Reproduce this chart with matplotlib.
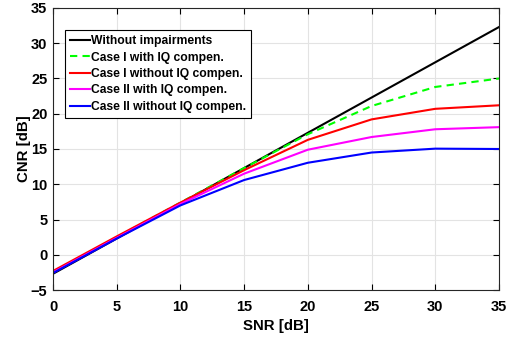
import matplotlib
matplotlib.use("Agg")
import matplotlib.pyplot as plt

snr = [0, 5, 10, 15, 20, 25, 30, 35]
no_imp = [-2.7, 2.3, 7.3, 12.3, 17.3, 22.3, 27.3, 32.3]
case1_iq = [-2.5, 2.5, 7.4, 12.3, 17.1, 21.1, 23.8, 25.0]
case1_noiq = [-2.3, 2.6, 7.4, 12.0, 16.3, 19.2, 20.7, 21.2]
case2_iq = [-2.5, 2.4, 7.2, 11.5, 14.9, 16.7, 17.8, 18.1]
case2_noiq = [-2.6, 2.3, 7.0, 10.6, 13.05, 14.5, 15.05, 15.0]
labels = ["Without impairments", "Case I with IQ compen.", "Case I without IQ compen.",
          "Case II with IQ compen.", "Case II without IQ compen."]

plt.rcParams['font.family'] = ['Liberation Sans', 'DejaVu Sans']
plt.rcParams['font.weight'] = 'bold'

fig = plt.figure(figsize=(5.14, 3.37), dpi=100)
ax = fig.add_axes([53/514, 1-290/337, (499-53)/514, (290-8)/337])

ax.plot(snr, no_imp, color='black', lw=1.5, label=labels[0])
ax.plot(snr, case1_iq, color='#00ff00', lw=1.5, ls=(0, (3.5, 2.5)), label=labels[1])
ax.plot(snr, case1_noiq, color='red', lw=1.5, label=labels[2])
ax.plot(snr, case2_iq, color='magenta', lw=1.5, label=labels[3])
ax.plot(snr, case2_noiq, color='blue', lw=1.5, label=labels[4])

ax.set_xlim(0, 35)
ax.set_ylim(-5, 35)
ax.set_xticks(range(0, 36, 5))
ax.set_yticks(range(-5, 36, 5))
ax.grid(True, color='#e3e3e3', lw=0.8)
ax.set_axisbelow(True)
ax.tick_params(direction='in', top=True, right=True, labelsize=10.5, length=4, width=0.8)
ax.tick_params(axis='x', pad=7)
ax.tick_params(axis='y', pad=4)
for lab in ax.get_xticklabels() + ax.get_yticklabels():
    lab.set_fontweight('bold')
for s in ax.spines.values():
    s.set_linewidth(0.8)
    s.set_color('#262626')
ax.set_xlabel("SNR [dB]", fontsize=10.8, fontweight='bold', labelpad=4)
ax.set_ylabel("CNR [dB]", fontsize=10.8, fontweight='bold', labelpad=0)

leg = ax.legend(loc='upper left', bbox_to_anchor=(0.027, 0.922),
                prop={'weight': 'bold', 'size': 8.7}, handlelength=1.65, handletextpad=0.1,
                borderpad=0.42, labelspacing=0.37, fancybox=False, framealpha=1,
                edgecolor='black', borderaxespad=0)
leg.get_frame().set_linewidth(0.8)

fig.savefig("out.png", dpi=100)
